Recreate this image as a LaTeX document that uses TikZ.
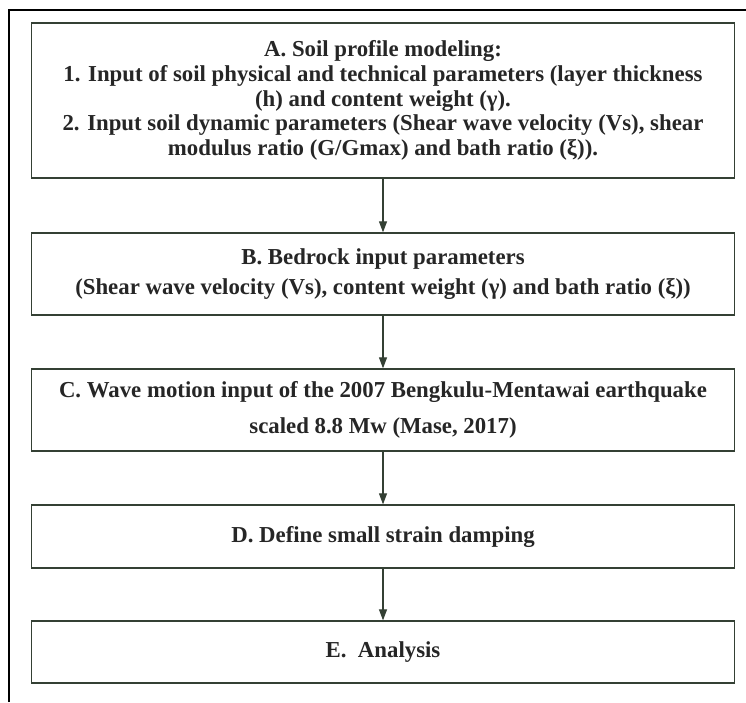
\documentclass[tikz,border=0pt]{standalone}
\usepackage{fontspec}
\setmainfont{Liberation Serif}
\usetikzlibrary{arrows.meta}
\definecolor{boxline}{RGB}{52,64,52}
\tikzset{
  stepbox/.style={draw=boxline, line width=1.3pt, rectangle, minimum width=703pt, align=center, inner sep=0pt,
    font=\fontsize{22.8}{24.6}\selectfont\bfseries, text=black!85},
  flow/.style={draw=boxline, line width=1.1pt, -{Triangle[width=8pt,length=11pt]}}
}
\begin{document}
\begin{tikzpicture}[x=1pt,y=-1pt]
\useasboundingbox (0,0) rectangle (746,702);
\fill[white] (0,0) rectangle (746,702);
\draw[line width=1.3pt, black] (9,702) -- (9,10) -- (746,10);
\node[stepbox, minimum height=155pt] (A) at (383,100.5) {A. Soil profile modeling:\\
1. Input of soil physical and technical parameters (layer thickness\\
(h) and content weight (γ).\\
2. Input soil dynamic parameters (Shear wave velocity (Vs), shear\\
modulus ratio (G/Gmax) and bath ratio (ξ)).};
\node[stepbox, minimum height=82pt, font=\fontsize{22.8}{30}\selectfont\bfseries] (B) at (383,274) {B. Bedrock input parameters\\
(Shear wave velocity (Vs), content weight (γ) and bath ratio (ξ))};
\node[stepbox, minimum height=82pt, font=\fontsize{22.8}{36}\selectfont\bfseries] (C) at (383,410) {C. Wave motion input of the 2007 Bengkulu-Mentawai earthquake\\
scaled 8.8 Mw (Mase, 2017)};
\node[stepbox, minimum height=63pt] (D) at (383,536.5) {D. Define small strain damping};
\node[stepbox, minimum height=62pt] (E) at (383,652) {E.\ \ Analysis};
\draw[flow] (A) -- (B);
\draw[flow] (B) -- (C);
\draw[flow] (C) -- (D);
\draw[flow] (D) -- (E);
\end{tikzpicture}
\end{document}
